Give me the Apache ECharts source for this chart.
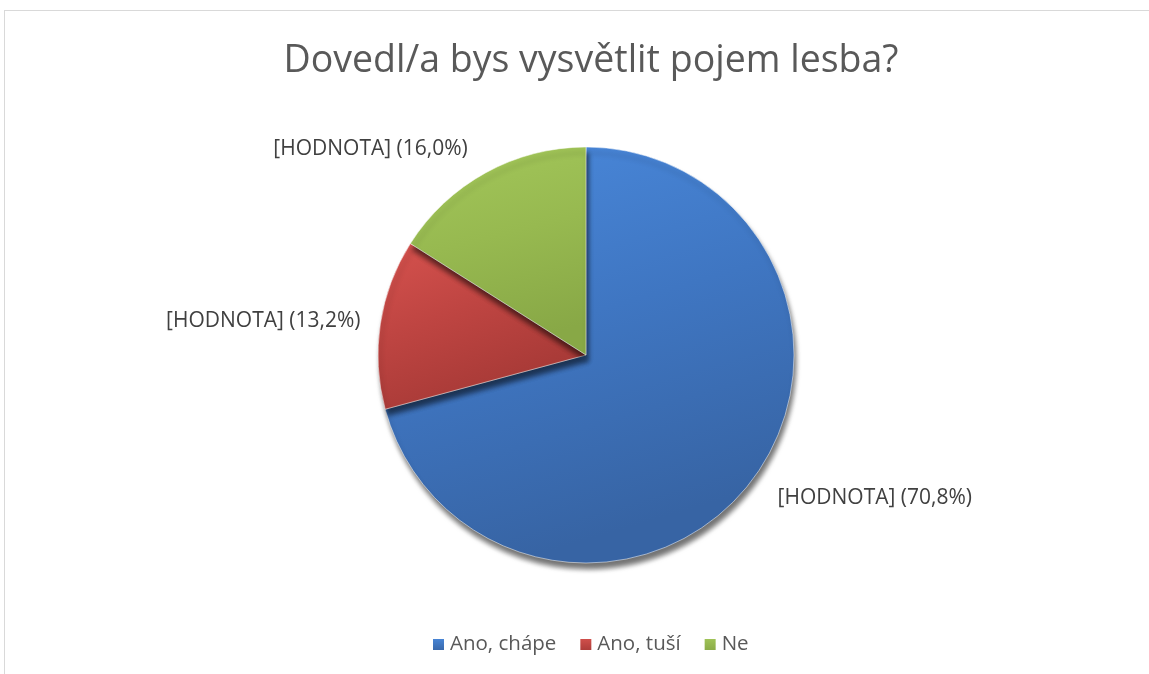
<!DOCTYPE html>
<html>
<head>
<meta charset="utf-8">
<script src="https://cdn.jsdelivr.net/npm/echarts@6/dist/echarts.min.js"></script>
<style>
  html, body { margin: 0; padding: 0; background: #ffffff; }
  #frame { position: absolute; left: 4px; top: 10px; width: 1300px; height: 800px;
           border-top: 1px solid #d9d9d9; border-left: 1px solid #d9d9d9; }
  #chart { position: absolute; left: 0; top: 0; width: 1149px; height: 674px; }
</style>
</head>
<body>
<div id="frame"></div>
<div id="chart"></div>
<script>
const titleText = 'Dovedl/a bys vysvětlit pojem lesba?';
const categories = ['Ano, chápe', 'Ano, tuší', 'Ne'];
const values = [70.8, 13.2, 16.0];
const labelPrefix = '[HODNOTA]';

const palette = [
  ['#4a89dc', '#3f76c2', '#3764a4'],
  ['#d6524e', '#bf4542', '#a83a37'],
  ['#a3c75a', '#97b950', '#88a846']
];
const labelLineLengths = [27, 15, 27];

function grad(c) {
  return {
    type: 'linear', x: 0, y: 0, x2: 0.3, y2: 1,
    colorStops: [
      { offset: 0, color: c[0] },
      { offset: 0.5, color: c[1] },
      { offset: 1, color: c[2] }
    ]
  };
}
function legendGrad(c) {
  return {
    type: 'linear', x: 0, y: 0, x2: 0, y2: 1,
    colorStops: [{ offset: 0, color: c[0] }, { offset: 1, color: c[2] }]
  };
}

const data = categories.map((name, i) => ({
  name: name,
  value: values[i],
  itemStyle: { color: grad(palette[i]) },
  labelLine: { show: false, length: labelLineLengths[i], length2: 0 }
}));

const chart = echarts.init(document.getElementById('chart'), null, { renderer: 'canvas' });
chart.setOption({
  backgroundColor: 'transparent',
  animation: false,
  title: {
    text: titleText,
    left: 586,
    textAlign: 'center',
    top: 37,
    textStyle: { fontFamily: 'Open Sans', fontSize: 37.5, fontWeight: 'normal', color: '#595959' }
  },
  legend: {
    bottom: 14,
    left: 426,
    itemWidth: 13,
    itemHeight: 13,
    itemGap: 22,
    icon: 'rect',
    textStyle: { fontFamily: 'Open Sans', fontSize: 20.5, color: '#595959' },
    data: categories.map((name, i) => ({ name: name, itemStyle: { color: legendGrad(palette[i]) } }))
  },
  series: [{
    type: 'pie',
    center: [586, 355],
    radius: [0, 208],
    startAngle: 90,
    clockwise: true,
    avoidLabelOverlap: false,
    itemStyle: {
      borderColor: '#ffffff',
      borderWidth: 0.5,
      shadowColor: 'rgba(0,0,0,0.55)',
      shadowBlur: 5,
      shadowOffsetX: 2,
      shadowOffsetY: 6
    },
    label: {
      show: true,
      position: 'outside',
      fontFamily: 'Open Sans',
      fontSize: 21,
      color: '#404040',
      formatter: p => labelPrefix + ' (' + p.value.toFixed(1).replace('.', ',') + '%)'
    },
    labelLine: { show: false, length: 27, length2: 0 },
    data: data
  }]
});
</script>
</body>
</html>
